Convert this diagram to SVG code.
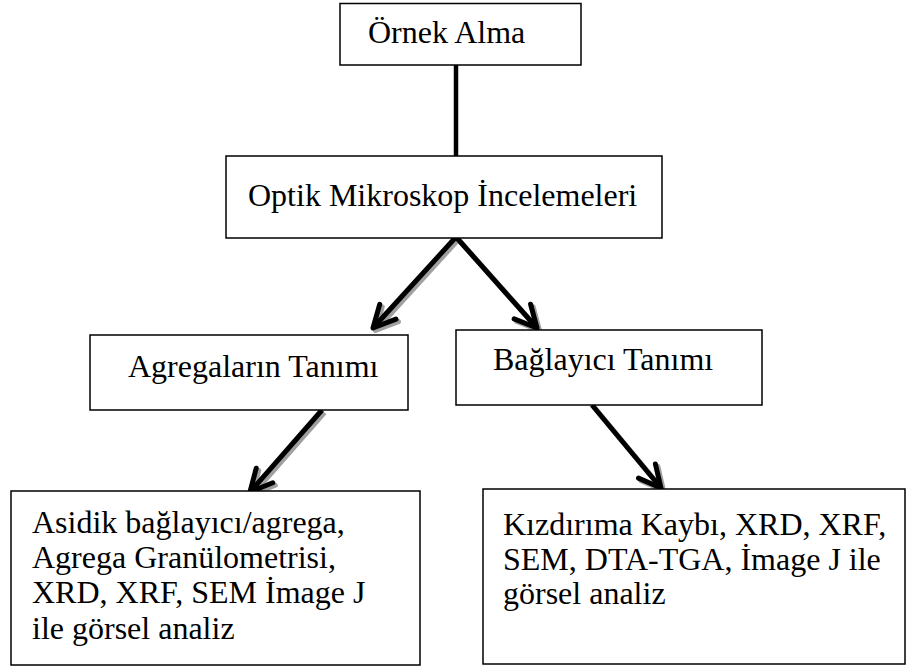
<svg xmlns="http://www.w3.org/2000/svg" width="908" height="670" viewBox="0 0 908 670">
  <style>
    .box { fill: #ffffff; stroke: #000000; stroke-width: 1.5; }
    .t { font-family: "Liberation Serif", "Times New Roman", serif; font-size: 32px; fill: #000000; }
    .conn { fill: none; stroke: #000000; stroke-width: 5; stroke-linejoin: round; }
    .shadow { fill: none; stroke: #a0a0a0; stroke-width: 5; stroke-linejoin: round; }
  </style>
  <defs>
    <marker id="arr" markerUnits="userSpaceOnUse" viewBox="-30 -16 36 32" refX="0" refY="0" markerWidth="36" markerHeight="32" orient="auto" overflow="visible">
      <path d="M -22,-11 L 0,0 L -22,11" fill="none" stroke="#000000" stroke-width="5" stroke-linejoin="round" stroke-linecap="round"/>
    </marker>
    <marker id="arrS" markerUnits="userSpaceOnUse" viewBox="-30 -16 36 32" refX="0" refY="0" markerWidth="36" markerHeight="32" orient="auto" overflow="visible">
      <path d="M -22,-11 L 0,0 L -22,11" fill="none" stroke="#a0a0a0" stroke-width="5" stroke-linejoin="round" stroke-linecap="round"/>
    </marker>
  </defs>

  <g id="connectors">
    <line x1="456" y1="65" x2="456" y2="156" stroke="#000000" stroke-width="4.5"/>
    <g transform="translate(2.5,2.5)">
      <line class="shadow" x1="456" y1="237" x2="373" y2="328" marker-end="url(#arrS)"/>
      <line class="shadow" x1="456" y1="237" x2="537" y2="328" marker-end="url(#arrS)"/>
      <line class="shadow" x1="322" y1="410" x2="250" y2="492" marker-end="url(#arrS)"/>
      <line class="shadow" x1="592" y1="405" x2="661" y2="488" marker-end="url(#arrS)"/>
    </g>
    <line class="conn" x1="456" y1="237" x2="373" y2="328" marker-end="url(#arr)"/>
    <line class="conn" x1="456" y1="237" x2="537" y2="328" marker-end="url(#arr)"/>
    <line class="conn" x1="322" y1="410" x2="250" y2="492" marker-end="url(#arr)"/>
    <line class="conn" x1="592" y1="405" x2="661" y2="488" marker-end="url(#arr)"/>
  </g>

  <g id="ornek-alma">
    <rect class="box" x="340" y="3.5" width="241" height="61.5"/>
    <text class="t" x="368" y="43">Örnek Alma</text>
  </g>

  <g id="optik">
    <rect class="box" x="226" y="156" width="436" height="82"/>
    <text class="t" x="248" y="206">Optik Mikroskop İncelemeleri</text>
  </g>

  <g id="agregalar">
    <rect class="box" x="90" y="335" width="318" height="75"/>
    <text class="t" x="128" y="377">Agregaların Tanımı</text>
  </g>

  <g id="baglayici">
    <rect class="box" x="456" y="330" width="306" height="75"/>
    <text class="t" x="493" y="370">Bağlayıcı Tanımı</text>
  </g>

  <g id="agrega-analiz">
    <rect class="box" x="11" y="491" width="409" height="174"/>
    <text class="t" x="32" y="533">Asidik bağlayıcı/agrega,</text>
    <text class="t" x="32" y="568">Agrega Granülometrisi,</text>
    <text class="t" x="32" y="603">XRD, XRF, SEM İmage J</text>
    <text class="t" x="32" y="639">ile görsel analiz</text>
  </g>

  <g id="baglayici-analiz">
    <rect class="box" x="483" y="489" width="422" height="175"/>
    <text class="t" x="503" y="535">Kızdırıma Kaybı, XRD, XRF,</text>
    <text class="t" x="503" y="570">SEM, DTA-TGA, İmage J ile</text>
    <text class="t" x="503" y="604">görsel analiz</text>
  </g>
</svg>
